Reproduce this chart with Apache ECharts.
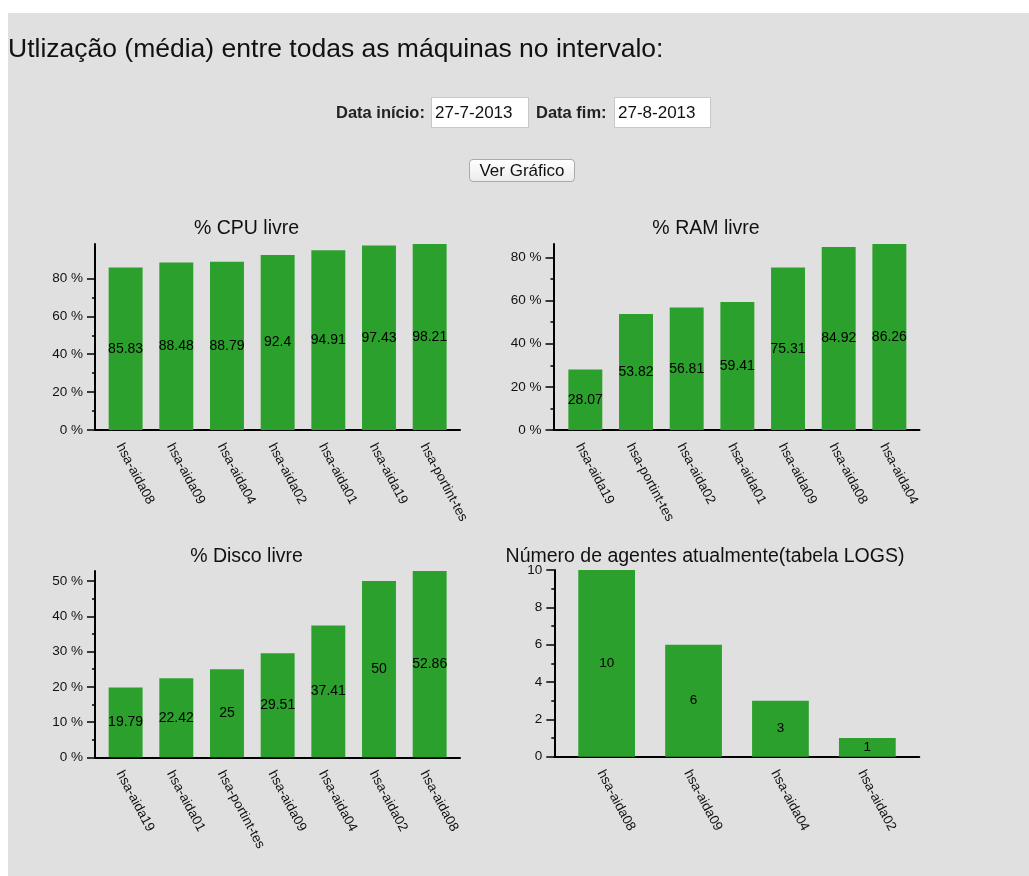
<!DOCTYPE html>
<html>
<head>
<meta charset="utf-8">
<script src="https://cdn.jsdelivr.net/npm/echarts@6/dist/echarts.min.js"></script>
<style>
  html, body { margin: 0; padding: 0; background: #ffffff; width: 1029px; height: 876px; overflow: hidden; }
  #bg { position: absolute; left: 8px; top: 13px; width: 1021px; height: 863px; background: #e0e0e0; }
  #chart { position: absolute; left: 0; top: 0; width: 1029px; height: 876px; }
  .hdr { position: absolute; font-family: "Liberation Sans", Arial, Helvetica, sans-serif; color: #111; white-space: nowrap; }
  #pageTitle { left: 8px; top: 33px; font-size: 26.5px; line-height: 30px; }
  .lbl { font-weight: bold; font-size: 16.5px; line-height: 18px; color: #222; }
  .inp { position: absolute; background: #fff; border: 1px solid #c8c8c8; box-sizing: border-box;
         font-family: "Liberation Sans", Arial, sans-serif; font-size: 17px; color: #111;
         line-height: 29px; padding-left: 3px; }
  #btn { position: absolute; left: 469px; top: 159px; width: 106px; height: 23px; box-sizing: border-box;
         background: linear-gradient(#ffffff, #ececec); border: 1px solid #aaa; border-radius: 4px;
         font-family: "Liberation Sans", Arial, sans-serif; font-size: 17px; line-height: 21px; text-align: center; color: #111; }
</style>
</head>
<body>
<div id="bg"></div>
<div id="chart"></div>
<div class="hdr" id="pageTitle">Utlização (média) entre todas as máquinas no intervalo:</div>
<div class="hdr lbl" style="left:336px; top:103px;">Data início:</div>
<div class="inp" style="left:431px; top:97px; width:98px; height:31px;">27-7-2013</div>
<div class="hdr lbl" style="left:536px; top:103px;">Data fim:</div>
<div class="inp" style="left:614px; top:97px; width:97px; height:31px;">27-8-2013</div>
<div id="btn">Ver Gráfico</div>
<script>
// ---------- data ----------
const cpuTitle = '% CPU livre';
const cpuCategories = ['hsa-aida08', 'hsa-aida09', 'hsa-aida04', 'hsa-aida02', 'hsa-aida01', 'hsa-aida19', 'hsa-portint-tes'];
const cpuValues = [85.83, 88.48, 88.79, 92.4, 94.91, 97.43, 98.21];
const cpuMajorTicks = [0, 20, 40, 60, 80];
const cpuMinorTicks = [10, 30, 50, 70];

const ramTitle = '% RAM livre';
const ramCategories = ['hsa-aida19', 'hsa-portint-tes', 'hsa-aida02', 'hsa-aida01', 'hsa-aida09', 'hsa-aida08', 'hsa-aida04'];
const ramValues = [28.07, 53.82, 56.81, 59.41, 75.31, 84.92, 86.26];
const ramMajorTicks = [0, 20, 40, 60, 80];
const ramMinorTicks = [10, 30, 50, 70];

const diskTitle = '% Disco livre';
const diskCategories = ['hsa-aida19', 'hsa-aida01', 'hsa-portint-tes', 'hsa-aida09', 'hsa-aida04', 'hsa-aida02', 'hsa-aida08'];
const diskValues = [19.79, 22.42, 25, 29.51, 37.41, 50, 52.86];
const diskMajorTicks = [0, 10, 20, 30, 40, 50];
const diskMinorTicks = [5, 15, 25, 35, 45];

const agentTitle = 'Número de agentes atualmente(tabela LOGS)';
const agentCategories = ['hsa-aida08', 'hsa-aida09', 'hsa-aida04', 'hsa-aida02'];
const agentValues = [10, 6, 3, 1];
const agentMajorTicks = [0, 2, 4, 6, 8, 10];
const agentMinorTicks = [1, 3, 5, 7, 9];

// ---------- layout ----------
const FONT = '"Liberation Sans", Arial, Helvetica, sans-serif';
const panels = [
  { title: cpuTitle, titleX: 241.5, titleY: 225, cats: cpuCategories, vals: cpuValues, major: cpuMajorTicks, minor: cpuMinorTicks, suffix: ' %',
    outer: { left: 95, width: 365 }, inner: { left: 100.3, width: 354.7 }, top: 244, height: 186, gap: '33%', labelSize: 14 },
  { title: ramTitle, titleX: 701, titleY: 225, cats: ramCategories, vals: ramValues, major: ramMajorTicks, minor: ramMinorTicks, suffix: ' %',
    outer: { left: 553.5, width: 366 }, inner: { left: 560, width: 354.7 }, top: 244, height: 186, gap: '33%', labelSize: 14 },
  { title: diskTitle, titleX: 241.5, titleY: 552.5, cats: diskCategories, vals: diskValues, major: diskMajorTicks, minor: diskMinorTicks, suffix: ' %',
    outer: { left: 95, width: 365 }, inner: { left: 100.3, width: 354.7 }, top: 571, height: 186.3, gap: '33%', labelSize: 14 },
  { title: agentTitle, titleX: 700, titleY: 552.5, cats: agentCategories, vals: agentValues, major: agentMajorTicks, minor: agentMinorTicks, suffix: '',
    outer: { left: 554.3, width: 365 }, inner: { left: 563.2, width: 347.6 }, top: 570, height: 186.7, gap: '34.7%', labelSize: 13.5 }
];

const option = { animation: false, title: [], grid: [], xAxis: [], yAxis: [], series: [] };

panels.forEach((p, i) => {
  const maxV = Math.max(...p.vals);
  const gInner = option.grid.length;
  option.grid.push({ left: p.inner.left, top: p.top, width: p.inner.width, height: p.height, containLabel: false });
  const gOuter = option.grid.length;
  option.grid.push({ left: p.outer.left, top: p.top, width: p.outer.width, height: p.height, containLabel: false });

  option.title.push({
    text: p.title, left: p.titleX, top: p.titleY - 11, textAlign: 'center',
    textStyle: { fontFamily: FONT, fontSize: 19.5, fontWeight: 'normal', color: '#111' }
  });

  // inner category axis (labels)
  const xIn = option.xAxis.length;
  option.xAxis.push({
    type: 'category', gridIndex: gInner, data: p.cats, position: 'bottom',
    axisLine: { show: false }, axisTick: { show: false },
    axisLabel: { rotate: -62, margin: 11, fontFamily: FONT, fontSize: 13.5, color: '#111', interval: 0,
                 verticalAlign: 'top' }
  });
  // outer category axis (baseline only)
  option.xAxis.push({
    type: 'category', gridIndex: gOuter, data: p.cats, position: 'bottom',
    axisLine: { show: true, lineStyle: { color: '#000', width: 2 } },
    axisTick: { show: false }, axisLabel: { show: false }
  });

  const offset = p.inner.left - p.outer.left;
  const yMajor = option.yAxis.length;
  option.yAxis.push({
    type: 'value', gridIndex: gInner, position: 'left', min: 0, max: maxV, offset: offset,
    splitLine: { show: false },
    axisLine: { show: true, lineStyle: { color: '#000', width: 2 } },
    axisTick: { show: true, length: 8, customValues: p.major, lineStyle: { color: '#000', width: 1.5 } },
    axisLabel: { customValues: p.major, margin: 12, fontFamily: FONT, fontSize: 13.5, color: '#111',
                 formatter: v => v + p.suffix }
  });
  option.yAxis.push({
    type: 'value', gridIndex: gInner, position: 'left', min: 0, max: maxV, offset: offset,
    splitLine: { show: false }, axisLine: { show: false },
    axisTick: { show: true, length: 3, customValues: p.minor, lineStyle: { color: '#000', width: 1.5 } },
    axisLabel: { show: false }
  });
  option.yAxis.push({
    type: 'value', gridIndex: gOuter, position: 'left', min: 0, max: maxV, show: false
  });

  option.series.push({
    type: 'bar', xAxisIndex: xIn, yAxisIndex: yMajor, data: p.vals,
    barCategoryGap: p.gap,
    itemStyle: { color: '#2ca02c' },
    label: { show: true, position: 'inside', color: '#000', fontFamily: FONT, fontSize: p.labelSize }
  });
});

const chart = echarts.init(document.getElementById('chart'), null, { renderer: 'canvas' });
chart.setOption(option);
</script>
</body>
</html>
